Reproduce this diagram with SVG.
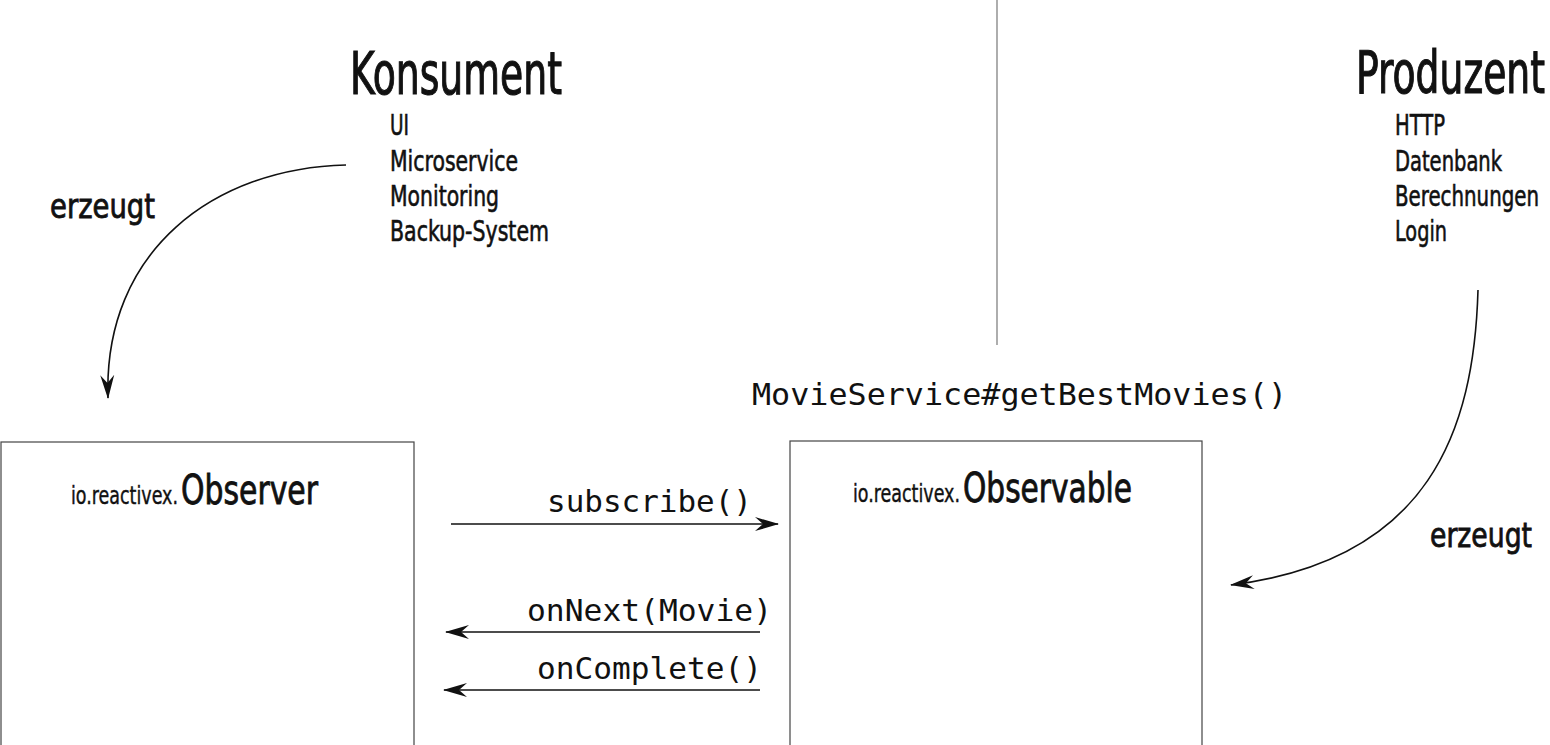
<svg xmlns="http://www.w3.org/2000/svg" width="1550" height="745" viewBox="0 0 1550 745">
  <style>
    .cond { font-family: "DejaVu Sans Condensed", "Liberation Sans Narrow", "Liberation Sans", sans-serif; fill: #111; stroke: #111; }
    .title { font-size: 59px; stroke-width: 1.1; }
    .item { font-size: 29px; stroke-width: 0.6; }
    .verb { font-size: 34px; stroke-width: 0.8; }
    .pkg { font-size: 24px; stroke-width: 0.4; }
    .cls { font-size: 40px; stroke-width: 0.8; }
    .mono { font-family: "DejaVu Sans Mono", "Liberation Mono", monospace; font-size: 31px; fill: #111; }
    .box { fill: #fff; stroke: #444; stroke-width: 1.2; }
    .wire { fill: none; stroke: #111; stroke-width: 1.6; }
    .divider { stroke: #777; stroke-width: 1.2; }
  </style>
  <defs>
    <marker id="head" viewBox="0 0 24 16" refX="23" refY="8" markerWidth="24" markerHeight="16" markerUnits="userSpaceOnUse" orient="auto">
      <path d="M0,1 L24,8 L0,15 L8,8 Z" fill="#111"/>
    </marker>
  </defs>
  <rect width="1550" height="745" fill="#fff"/>

  <!-- dividing line between consumer and producer side -->
  <line class="divider" x1="997" y1="0" x2="997" y2="345"/>

  <g id="konsument">
    <text class="cond title" x="350" y="94" textLength="212" lengthAdjust="spacingAndGlyphs">Konsument</text>
    <text class="cond item" x="390" y="135" textLength="19" lengthAdjust="spacingAndGlyphs">UI</text>
    <text class="cond item" x="390" y="171" textLength="128" lengthAdjust="spacingAndGlyphs">Microservice</text>
    <text class="cond item" x="390" y="206" textLength="109" lengthAdjust="spacingAndGlyphs">Monitoring</text>
    <text class="cond item" x="390" y="241" textLength="159" lengthAdjust="spacingAndGlyphs">Backup-System</text>
  </g>

  <g id="produzent">
    <text class="cond title" x="1356" y="93" textLength="189" lengthAdjust="spacingAndGlyphs">Produzent</text>
    <text class="cond item" x="1395" y="135" textLength="50" lengthAdjust="spacingAndGlyphs">HTTP</text>
    <text class="cond item" x="1395" y="171" textLength="107" lengthAdjust="spacingAndGlyphs">Datenbank</text>
    <text class="cond item" x="1395" y="206" textLength="144" lengthAdjust="spacingAndGlyphs">Berechnungen</text>
    <text class="cond item" x="1395" y="241" textLength="52" lengthAdjust="spacingAndGlyphs">Login</text>
  </g>

  <g id="observer">
    <rect class="box" x="1" y="442" width="413" height="310"/>
    <text class="cond pkg" x="71" y="504" textLength="107" lengthAdjust="spacingAndGlyphs">io.reactivex.</text>
    <text class="cond cls" x="181" y="504" textLength="137" lengthAdjust="spacingAndGlyphs">Observer</text>
  </g>

  <g id="observable">
    <rect class="box" x="790" y="441" width="412" height="310"/>
    <text class="cond pkg" x="853" y="502" textLength="107" lengthAdjust="spacingAndGlyphs">io.reactivex.</text>
    <text class="cond cls" x="963" y="502" textLength="169" lengthAdjust="spacingAndGlyphs">Observable</text>
  </g>

  <g id="service-label">
    <text class="mono" x="752" y="405" textLength="535" lengthAdjust="spacingAndGlyphs">MovieService#getBestMovies()</text>
  </g>

  <g id="connectors">
    <!-- consumer creates the observer -->
    <path class="wire" d="M346,165 C215,168 103,250 108,398" marker-end="url(#head)"/>
    <text class="cond verb" x="50" y="218" textLength="105" lengthAdjust="spacingAndGlyphs">erzeugt</text>
    <!-- producer creates the observable -->
    <path class="wire" d="M1478,290 C1474,430 1430,560 1231,585" marker-end="url(#head)"/>
    <text class="cond verb" x="1430" y="547" textLength="102" lengthAdjust="spacingAndGlyphs">erzeugt</text>

    <line class="wire" x1="451" y1="524" x2="778" y2="524" marker-end="url(#head)"/>
    <text class="mono" x="547" y="512" textLength="205" lengthAdjust="spacingAndGlyphs">subscribe()</text>

    <line class="wire" x1="760" y1="632" x2="446" y2="632" marker-end="url(#head)"/>
    <text class="mono" x="527" y="621" textLength="245" lengthAdjust="spacingAndGlyphs">onNext(Movie)</text>

    <line class="wire" x1="760" y1="690" x2="444" y2="690" marker-end="url(#head)"/>
    <text class="mono" x="537" y="679" textLength="225" lengthAdjust="spacingAndGlyphs">onComplete()</text>
  </g>
</svg>
